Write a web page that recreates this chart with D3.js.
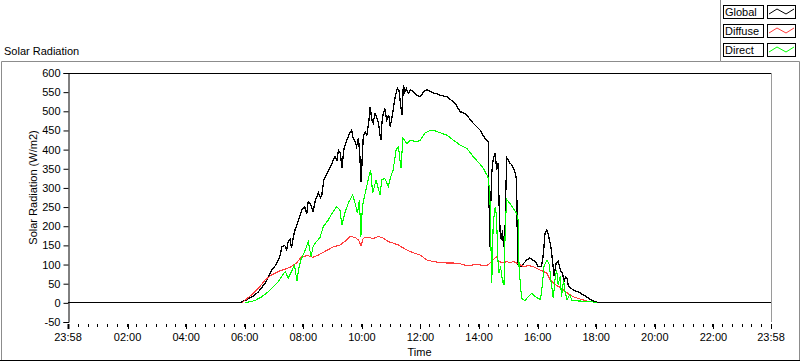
<!DOCTYPE html>
<html>
<head>
<meta charset="utf-8">
<script src="https://cdn.jsdelivr.net/npm/d3@7"></script>
<style>
body { margin: 0; background: #fff; }
svg text { font-family: "Liberation Sans", Arial, sans-serif; font-size: 11px; fill: #000; }
</style>
</head>
<body>
<div id="chart"></div>
<script>
const width = 800;
const height = 361;

const title = "Solar Radiation";
const yTitle = "Solar Radiation (W/m2)";
const xTitle = "Time";

const seriesNames = ["Global", "Diffuse", "Direct"];
const seriesColors = ["#000000", "#ff3c3c", "#00ff00"];

const yTicks = [-50, 0, 50, 100, 150, 200, 250, 300, 350, 400, 450, 500, 550, 600];
const xTickLabels = ["23:58", "02:00", "04:00", "06:00", "08:00", "10:00", "12:00",
                     "14:00", "16:00", "18:00", "20:00", "22:00", "23:58"];

// [time, W/m2]
const globalSeries = [
  ["23:58",0],["05:50",0],["05:54",3],["06:04",8],["06:11",13],["06:20",20],["06:28",29],
  ["06:35",40],["06:42",52],["06:48",66],["06:55",86],["07:02",96],["07:09",112],["07:13",125],
  ["07:16",147],["07:22",150],["07:26",138],["07:29",160],["07:33",165],["07:36",143],["07:40",175],
  ["07:43",190],["07:50",215],["07:57",243],["08:03",250],["08:07",232],["08:10",264],["08:15",258],
  ["08:20",238],["08:25",270],["08:31",287],["08:35",275],["08:38",282],["08:42",321],["08:48",335],
  ["08:55",355],["09:00",368],["09:05",382],["09:09",372],["09:12",399],["09:16",390],["09:19",352],
  ["09:23",400],["09:29",425],["09:34",440],["09:39",451],["09:42",430],["09:46",421],
  ["09:49",408],["09:53",430],["09:56",380],["09:58",316],["10:00",360],["10:03",438],["10:07",445],
  ["10:10",438],["10:14",470],["10:17",512],["10:20",480],["10:23",469],["10:27",495],
  ["10:30",486],["10:34",470],["10:37",440],["10:39",425],["10:41",470],["10:44",496],["10:47",505],
  ["10:51",477],["10:55",490],["10:58",460],["11:01",480],["11:04",503],["11:07",530],
  ["11:10",548],["11:13",560],["11:16",555],["11:19",520],["11:22",490],["11:25",569],["11:28",550],
  ["11:31",560],["11:35",547],["11:40",556],["11:45",551],["11:50",545],["11:54",541],
  ["11:59",538],["12:05",548],["12:10",555],["12:13",556],["12:20",552],["12:26",548],["12:33",546],
  ["12:40",542],["12:47",540],["12:54",538],["13:00",532],["13:07",525],["13:14",515],
  ["13:21",499],["13:28",496],["13:35",490],["13:42",478],["13:48",469],["13:55",460],["14:02",451],
  ["14:07",440],["14:12",430],["14:16",425],["14:19",421],["14:20",300],
  ["14:22",147],["14:24",260],["14:26",340],["14:28",365],["14:30",380],["14:33",391],["14:36",347],
  ["14:39",365],["14:41",260],["14:43",190],["14:44",170],
  ["14:46",164],["14:48",190],["14:50",147],["14:53",173],["14:55",300],["14:57",378],["15:00",372],
  ["15:03",365],["15:06",362],["15:10",352],["15:14",339],["15:17",321],["15:18",200],["15:20",99],
  ["15:27",95],["15:32",104],["15:38",112],["15:44",117],["15:50",112],
  ["15:55",108],["16:01",95],["16:08",95],["16:10",112],["16:12",130],["16:15",182],["16:19",190],
  ["16:22",177],["16:25",160],["16:27",147],["16:31",104],["16:34",69],["16:36",90],["16:38",104],
  ["16:42",108],["16:45",95],["16:47",82],["16:51",77],["16:54",56],["16:57",68],["17:00",65],
  ["17:03",43],["17:08",38],["17:13",34],["17:20",30],["17:27",26],["17:34",20],["17:40",16],
  ["17:47",10],["17:54",5],["18:02",1],["18:06",0],["23:58",0]
];

const diffuseSeries = [
  ["05:54",0],["06:14",21],["06:28",38],["06:42",60],["06:55",73],["07:09",82],["07:23",88],
  ["07:36",95],["07:46",104],["07:57",121],["08:10",123],["08:20",119],["08:31",125],
  ["08:44",134],["09:01",146],["09:15",151],["09:25",160],["09:36",173],["09:46",171],
  ["09:53",164],["09:58",149],["10:03",169],["10:13",171],["10:23",168],["10:34",173],
  ["10:44",169],["10:54",160],["11:04",156],["11:15",151],["11:25",143],["11:35",136],
  ["11:45",131],["11:59",125],["12:13",112],["12:26",108],["12:40",105],["12:54",104],
  ["13:07",104],["13:21",102],["13:35",97],["13:48",99],["14:02",99],["14:16",97],
  ["14:22",103],["14:29",113],["14:36",121],["14:39",108],["14:50",105],["14:57",108],
  ["15:03",104],["15:10",108],["15:20",102],["15:31",95],["15:41",97],["15:51",95],
  ["16:01",88],["16:12",82],["16:19",77],["16:25",62],["16:36",48],["16:46",40],
  ["16:56",30],["17:06",21],["17:17",14],["17:27",10],["17:40",5],["17:54",2],["18:02",0]
];

const directSeries = [
  ["06:01",0],["06:21",6],["06:35",16],["06:48",29],["06:59",43],["07:09",56],["07:16",69],
  ["07:23",82],["07:29",64],["07:36",82],["07:42",99],["07:47",56],["07:50",86],["07:55",112],
  ["08:04",138],["08:10",160],["08:16",121],["08:20",147],["08:27",160],["08:34",170],
  ["08:41",199],["08:51",216],["09:01",238],["09:08",251],["09:15",243],["09:19",203],
  ["09:25",234],["09:32",260],["09:41",282],["09:46",260],["09:51",234],["09:55",269],
  ["09:58",173],["10:01",251],["10:06",282],["10:15",334],["10:18",347],["10:22",286],
  ["10:29",321],["10:37",282],["10:41",321],["10:47",325],["10:54",303],["10:59",329],
  ["11:04",347],["11:10",399],["11:15",408],["11:20",351],["11:24",430],["11:32",416],
  ["11:39",425],["11:49",421],["11:59",423],["12:09",443],["12:20",450],["12:26",451],
  ["12:40",444],["12:54",438],["13:07",425],["13:21",412],["13:35",403],["13:48",382],
  ["14:02",362],["14:09",351],["14:16",334],["14:19",325],["14:22",286],["14:26",51],
  ["14:29",208],["14:33",251],["14:36",225],["14:38",121],["14:41",77],["14:44",95],
  ["14:48",56],["14:51",47],["14:54",216],["14:57",269],["15:03",260],["15:10",247],
  ["15:17",234],["15:20",216],["15:22",91],["15:27",12],["15:34",6],["15:41",16],
  ["15:48",25],["15:55",16],["16:01",12],["16:06",8],["16:10",51],["16:13",95],
  ["16:19",112],["16:24",100],["16:27",60],["16:32",12],["16:36",66],["16:39",86],
  ["16:42",47],["16:46",69],["16:49",16],["16:53",60],["16:56",30],["17:00",8],
  ["17:06",21],["17:10",6],["17:20",5],["17:47",4],["17:54",2],["18:02",0]
];

// minutes since midnight; a leading 23:58 belongs to the day before
function toMin(s, i) {
  const p = s.split(":");
  let m = +p[0] * 60 + +p[1];
  if (i === 0 && m > 720) m -= 1440;
  return m;
}
const xTickMins = xTickLabels.map(toMin);

const svg = d3.select("#chart").append("svg")
  .attr("width", width)
  .attr("height", height);

const plot = { left: 68, right: 771, top: 73, bottom: 322 };

const x = d3.scaleLinear()
  .domain([xTickMins[0], xTickMins[xTickMins.length - 1]])
  .range([plot.left, plot.right]);

const y = d3.scaleLinear()
  .domain([-50, 600])
  .range([plot.bottom, plot.top]);

// outer frame
svg.append("rect").attr("x", 0).attr("y", 0).attr("width", width).attr("height", height).attr("fill", "#fff");
svg.append("path")
  .attr("d", "M1.5,360 V61.5 H720.5 V0 M720.5,61.5 H799.5 V360")
  .attr("fill", "none").attr("stroke", "#8c8c8c");
svg.append("line").attr("x1", 0).attr("x2", width).attr("y1", 360.5).attr("y2", 360.5).attr("stroke", "#000");

svg.append("text").attr("x", 4).attr("y", 55).text(title);

// plot frame
svg.append("line").attr("x1", plot.left).attr("x2", plot.right + 1).attr("y1", plot.top + 0.5).attr("y2", plot.top + 0.5).attr("stroke", "#000");
svg.append("line").attr("x1", plot.right + 0.5).attr("x2", plot.right + 0.5).attr("y1", plot.top).attr("y2", plot.bottom).attr("stroke", "#9a9a9a");

// y axis
const yAxis = d3.axisLeft(y).tickValues(yTicks).tickSize(5).tickPadding(3).tickFormat(d => d);
svg.append("g")
  .attr("transform", `translate(${plot.left + 0.5},0)`)
  .call(yAxis)
  .call(g => g.select(".domain").attr("stroke", "#000"))
  .call(g => g.selectAll("text").style("font-family", "Liberation Sans, Arial, sans-serif").style("font-size", "11px"));

svg.append("text")
  .attr("transform", `translate(37,${(plot.top + plot.bottom) / 2 - 10}) rotate(-90)`)
  .attr("text-anchor", "middle")
  .text(yTitle);

// x axis: minor ticks every 20 min, labelled ticks every 2 h
const minorTicks = d3.range(xTickMins[0], xTickMins[xTickMins.length - 1] + 1, 20);
svg.append("g").selectAll("line.minor")
  .data(minorTicks)
  .enter().append("line")
  .attr("x1", d => Math.round(x(d)) + 0.5)
  .attr("x2", d => Math.round(x(d)) + 0.5)
  .attr("y1", plot.bottom + 2)
  .attr("y2", plot.bottom + 5)
  .attr("stroke", "#000");

svg.append("g").selectAll("line.major")
  .data(xTickMins)
  .enter().append("line")
  .attr("x1", d => Math.round(x(d)) + 0.5)
  .attr("x2", d => Math.round(x(d)) + 0.5)
  .attr("y1", plot.bottom + 2)
  .attr("y2", plot.bottom + 7)
  .attr("stroke", "#000")
  .attr("stroke-width", (d, i) => i === 0 ? 2 : 1);

svg.append("g").selectAll("text")
  .data(xTickLabels)
  .enter().append("text")
  .attr("x", (d, i) => x(xTickMins[i]))
  .attr("y", plot.bottom + 19)
  .attr("text-anchor", "middle")
  .text(d => d);

svg.append("text")
  .attr("x", (plot.left + plot.right) / 2)
  .attr("y", 356)
  .attr("text-anchor", "middle")
  .text(xTitle);

// series, drawn without smoothing like the original instrument plot
const line = d3.line()
  .x(d => x(d.t))
  .y(d => y(d.v));

[globalSeries, diffuseSeries, directSeries].forEach((s, k) => {
  const pts = s.map((d, i) => ({ t: toMin(d[0], i), v: d[1] }));
  svg.append("path")
    .datum(pts)
    .attr("fill", "none")
    .attr("stroke", seriesColors[k])
    .attr("stroke-width", k === 0 ? 1.3 : 1.1)
    .attr("shape-rendering", "crispEdges")
    .attr("d", line);
});

// legend
seriesNames.forEach((name, i) => {
  const ly = 5 + i * 19;
  svg.append("rect")
    .attr("x", 723.5).attr("y", ly + 0.5).attr("width", 40).attr("height", 13)
    .attr("fill", "#fff").attr("stroke", "#000");
  svg.append("text").attr("x", 725).attr("y", ly + 11).text(name);
  svg.append("rect")
    .attr("x", 767.5).attr("y", ly + 0.5).attr("width", 28).attr("height", 13)
    .attr("fill", "#fff").attr("stroke", "#000");
  svg.append("path")
    .attr("d", `M769,${ly + 9} L777,${ly + 4} L786,${ly + 9} L794,${ly + 4}`)
    .attr("fill", "none")
    .attr("stroke", seriesColors[i]);
});
</script>
</body>
</html>
